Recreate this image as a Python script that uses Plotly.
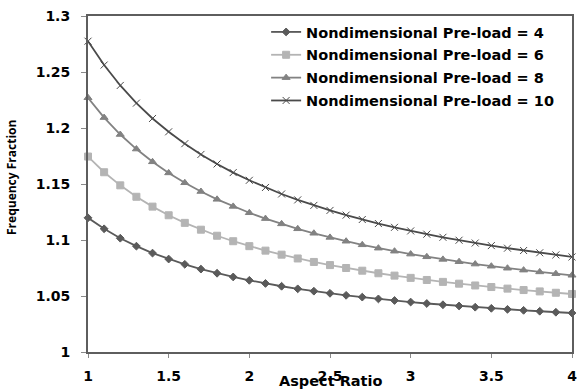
import plotly.graph_objects as go

aspect_ratio = [1.0, 1.1, 1.2, 1.3, 1.4, 1.5, 1.6, 1.7, 1.8, 1.9, 2.0, 2.1, 2.2, 2.3, 2.4, 2.5,
                2.6, 2.7, 2.8, 2.9, 3.0, 3.1, 3.2, 3.3, 3.4, 3.5, 3.6, 3.7, 3.8, 3.9, 4.0]

preload_4 = [1.1198, 1.1100, 1.1016, 1.0945, 1.0883, 1.0830, 1.0783, 1.0740, 1.0703, 1.0670,
             1.0640, 1.0612, 1.0587, 1.0564, 1.0543, 1.0524, 1.0506, 1.0490, 1.0474, 1.0460,
             1.0446, 1.0433, 1.0422, 1.0411, 1.0400, 1.0390, 1.0381, 1.0372, 1.0364, 1.0355, 1.0348]
preload_6 = [1.1745, 1.1605, 1.1488, 1.1386, 1.1298, 1.1221, 1.1153, 1.1092, 1.1038, 1.0989,
             1.0945, 1.0905, 1.0869, 1.0835, 1.0804, 1.0776, 1.0750, 1.0726, 1.0703, 1.0682,
             1.0662, 1.0643, 1.0626, 1.0610, 1.0594, 1.0580, 1.0566, 1.0553, 1.0541, 1.0529, 1.0518]
preload_8 = [1.2270, 1.2093, 1.1942, 1.1812, 1.1698, 1.1599, 1.1511, 1.1433, 1.1363, 1.1300,
             1.1243, 1.1191, 1.1144, 1.1100, 1.1060, 1.1023, 1.0989, 1.0957, 1.0927, 1.0900,
             1.0874, 1.0850, 1.0827, 1.0806, 1.0785, 1.0766, 1.0748, 1.0731, 1.0715, 1.0699, 1.0685]
preload_10 = [1.2775, 1.2562, 1.2380, 1.2222, 1.2085, 1.1966, 1.1860, 1.1764, 1.1679, 1.1602,
              1.1533, 1.1469, 1.1411, 1.1358, 1.1309, 1.1264, 1.1222, 1.1183, 1.1147, 1.1113,
              1.1081, 1.1052, 1.1024, 1.0998, 1.0973, 1.0950, 1.0927, 1.0906, 1.0886, 1.0867, 1.0849]

series_names = ["Nondimensional Pre-load = 4", "Nondimensional Pre-load = 6",
                "Nondimensional Pre-load = 8", "Nondimensional Pre-load = 10"]
x_ticks = [1, 1.5, 2, 2.5, 3, 3.5, 4]
x_ticklabels = ["1", "1.5", "2", "2.5", "3", "3.5", "4"]
y_ticks = [1, 1.05, 1.1, 1.15, 1.2, 1.25, 1.3]
y_ticklabels = ["1", "1.05", "1.1", "1.15", "1.2", "1.25", "1.3"]

styles = [
    dict(color="#5a5a5a", symbol="diamond", size=6),
    dict(color="#b4b4b4", symbol="square", size=7),
    dict(color="#828282", symbol="triangle-up", size=7),
    dict(color="#4a4a4a", symbol="x-thin", size=7),
]

FONT = "DejaVu Sans"
fig = go.Figure()
for i, (name, ys) in enumerate(zip(series_names, [preload_4, preload_6, preload_8, preload_10])):
    s = styles[i]
    fig.add_trace(go.Scatter(
        x=aspect_ratio, y=ys, name=name, mode="lines+markers",
        legendgroup=f"g{i}",
        line=dict(color=s["color"], width=1.8),
        marker=dict(symbol=s["symbol"], size=s["size"], color=s["color"],
                    line=dict(color=s["color"], width=1)),
        cliponaxis=False,
    ))

axis_common = dict(showgrid=False, zeroline=False, showline=True, linecolor="#5e5e5e",
                   linewidth=2, mirror=True, ticks="outside", tickcolor="#8a8a8a",
                   ticklabeloverflow="allow",
                   tickfont=dict(family=FONT, size=14, color="black", weight="bold"))

fig.update_layout(
    width=580, height=392,
    margin=dict(l=88, r=3, t=16, b=40),
    paper_bgcolor="white", plot_bgcolor="white",
    font=dict(family=FONT, size=14, color="black", weight="bold"),
    showlegend=True,
    legend=dict(x=0.368, y=1.0, xanchor="left", yanchor="top",
                bgcolor="rgba(0,0,0,0)", borderwidth=0,
                traceorder="grouped", tracegroupgap=1,
                font=dict(family=FONT, size=14.5, color="black", weight="bold")),
    xaxis=dict(range=[1, 4], tickmode="array", tickvals=x_ticks, ticktext=x_ticklabels,
               ticklen=4, ticklabelstandoff=6, **axis_common),
    yaxis=dict(range=[1, 1.3], tickmode="array", tickvals=y_ticks, ticktext=y_ticklabels,
               ticklen=5, ticklabelstandoff=8, **axis_common),
    annotations=[
        dict(text="Aspect Ratio", xref="paper", yref="paper", x=0.5, y=-0.086,
             xanchor="center", yanchor="middle", showarrow=False,
             font=dict(family=FONT, size=14.5, color="black", weight="bold")),
        dict(text="Frequency Fraction", xref="paper", yref="paper", x=-0.157, y=0.518,
             xanchor="center", yanchor="middle", showarrow=False, textangle=-90,
             font=dict(family="Open Sans", size=12, color="black", weight="bold")),
    ],
)

fig.write_html("out.html", config={"displayModeBar": False},
               post_script="document.body.style.margin='0px';")
